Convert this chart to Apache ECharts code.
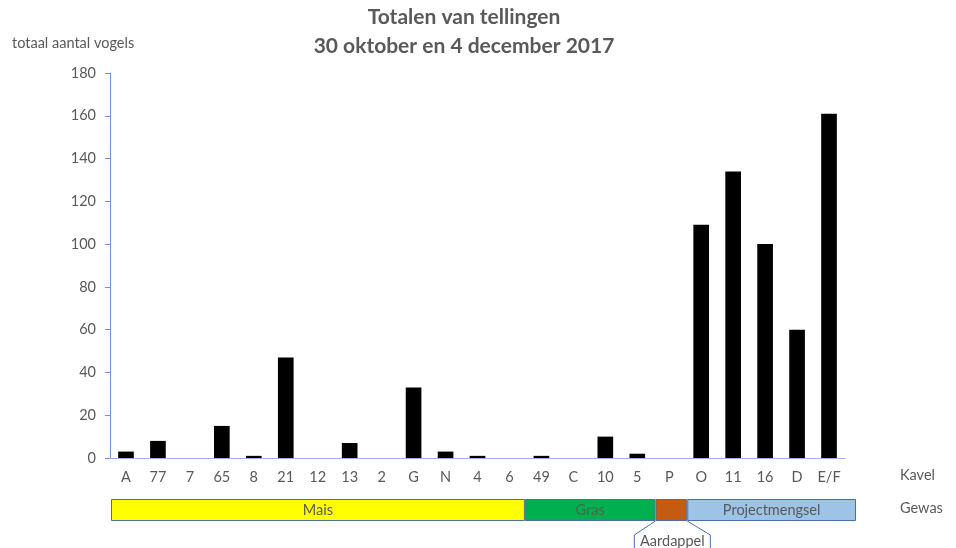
<!DOCTYPE html>
<html><head><meta charset="utf-8">
<script src="https://cdn.jsdelivr.net/npm/echarts@6/dist/echarts.min.js"></script>
<style>html,body{margin:0;padding:0;background:#fff}#c{width:956px;height:548px}</style>
</head><body><div id="c"></div>
<script>
// Data
var kavels = ['A','77','7','65','8','21','12','13','2','G','N','4','6','49','C','10','5','P','O','11','16','D','E/F'];
var totals = [3,8,0,15,1,47,0,7,0,33,3,1,0,1,0,10,2,0,109,134,100,60,161];
var yTicks = {min:0, max:180, interval:20};
var gewasNames = ['Mais','Gras','Aardappel','Projectmengsel'];
var gewasSpan = [13, 4.1, 1, 5.3]; // width of each crop block, in kavel units
var gewasColors = ['#FFFF00','#00B050','#C55A11','#9DC3E6'];

var FONT = 'Lato, "Open Sans", sans-serif';
var TXT = '#595959';
var FS = 14.5;
var chart = echarts.init(document.getElementById('c'));

var gewasSeries = gewasNames.map(function(n,i){
  return {
    type:'bar', name:n, stack:'g', xAxisIndex:1, yAxisIndex:1, barWidth:22,
    data:[gewasSpan[i]],
    itemStyle:{color:gewasColors[i], borderColor:'#4A6FA5', borderWidth:1},
    label:{show: n!=='Aardappel', position:'inside', formatter:n, color: n==='Gras' ? '#3F6B4C' : TXT, fontFamily:FONT, fontSize:FS},
    silent:true, animation:false
  };
});
var gewasTotal = gewasSpan.reduce(function(a,b){return a+b;},0);

chart.setOption({
  animation:false,
  grid:[{left:110, right:111, top:73, height:385},
        {left:111, width:745, top:499, height:22}],
  xAxis:[{type:'category', data:kavels, gridIndex:0,
          axisLine:{lineStyle:{color:'#9DB3E0', width:1}}, axisTick:{show:false},
          axisLabel:{color:TXT, fontFamily:FONT, fontSize:FS, margin:12, interval:0}},
         {type:'value', gridIndex:1, min:0, max:gewasTotal, show:false}],
  yAxis:[{type:'value', gridIndex:0, min:yTicks.min, max:yTicks.max, interval:yTicks.interval,
          axisLine:{show:true, lineStyle:{color:'#7194D0'}}, axisTick:{show:true, length:5, lineStyle:{color:'#7194D0'}},
          splitLine:{show:false},
          axisLabel:{color:TXT, fontFamily:FONT, fontSize:FS, margin:14}},
         {type:'category', gridIndex:1, data:['Gewas'], show:false}],
  series:[{type:'bar', data:totals, barWidth:'49%', itemStyle:{color:'#000'}}].concat(gewasSeries)
});

// Aardappel callout under its block
var startA = gewasSpan[0]+gewasSpan[1], endA = startA+gewasSpan[2];
var p1 = chart.convertToPixel({gridIndex:1}, [startA, 0]);
var p2 = chart.convertToPixel({gridIndex:1}, [endA, 0]);
var yb = 521, cx = (p1[0]+p2[0])/2;
var font = FS + 'px ' + FONT;
var tfont = 'bold 21px ' + FONT;
chart.setOption({graphic:[
  {type:'text', x:464, y:17, style:{text:'Totalen van tellingen', fill:TXT, font:tfont, textAlign:'center', textVerticalAlign:'middle'}},
  {type:'text', x:464, y:46, style:{text:'30 oktober en 4 december 2017', fill:TXT, font:tfont, textAlign:'center', textVerticalAlign:'middle'}},
  {type:'text', left:12, top:36, style:{text:'totaal aantal vogels', fill:TXT, font:font}},
  {type:'text', left:900, top:468, style:{text:'Kavel', fill:TXT, font:font}},
  {type:'text', left:900, top:501, style:{text:'Gewas', fill:TXT, font:font}},
  {type:'polyline', shape:{points:[[p1[0],yb],[cx-37,535],[cx-37,548]]}, style:{stroke:'#4A6FA5', lineWidth:1, fill:null}},
  {type:'polyline', shape:{points:[[p2[0],yb],[cx+39,535],[cx+39,548]]}, style:{stroke:'#4A6FA5', lineWidth:1, fill:null}},
  {type:'text', x:cx+1, y:541, style:{text:'Aardappel', fill:TXT, font:font, textAlign:'center', textVerticalAlign:'middle'}}
]});
</script></body></html>
